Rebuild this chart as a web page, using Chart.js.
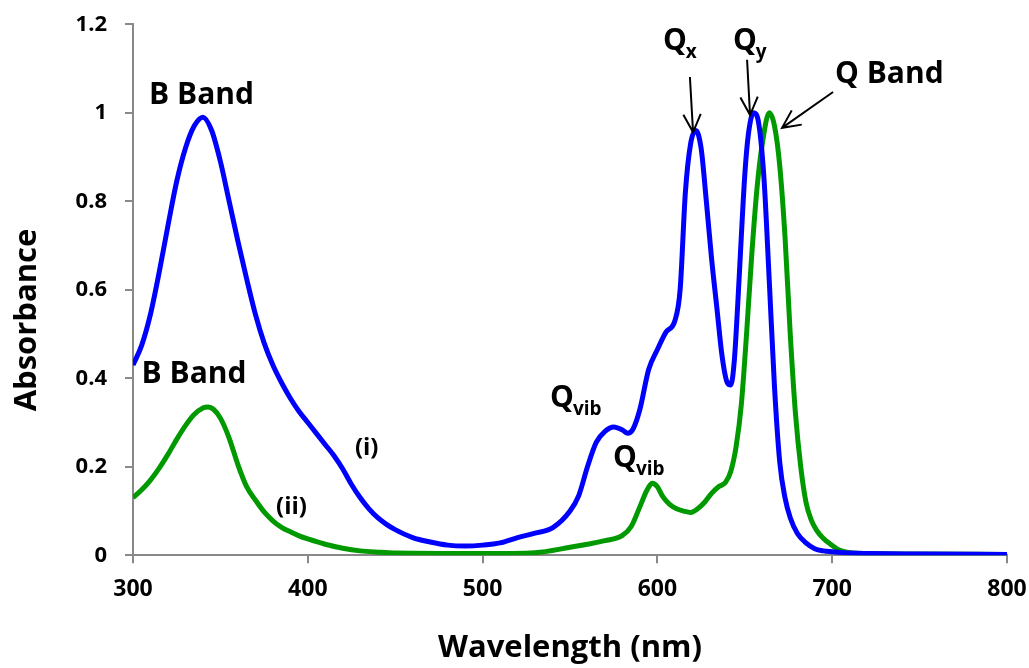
<!DOCTYPE html>
<html>
<head>
<meta charset="utf-8">
<script src="https://cdn.jsdelivr.net/npm/chart.js@4"></script>
<style>
html,body{margin:0;padding:0;background:#fff;}
#c{display:block;}
</style>
</head>
<body>
<canvas id="c" width="1029" height="668"></canvas>
<script>
// ---- data ----
const wlI = [300,305,310,315,320,325,330,335,340,345,350,355,360,365,370,375,380,385,390,395,400,405,410,415,420,425,430,435,440,445,450,460,470,480,490,500,510,520,530,540,550,555,560,565,570,575,580,583,586,590,595,600,605,610,613,616,619,622,625,628,631,634,637,640,642,644,646,648,650,652,655,658,661,664,667,670,673,676,680,685,690,695,700,710,720,750,800];
const absI = [0.43,0.475,0.545,0.64,0.745,0.845,0.92,0.97,0.99,0.96,0.89,0.80,0.71,0.625,0.545,0.48,0.43,0.39,0.355,0.325,0.30,0.275,0.25,0.225,0.195,0.16,0.13,0.105,0.085,0.07,0.058,0.04,0.03,0.023,0.021,0.023,0.028,0.04,0.05,0.062,0.10,0.135,0.2,0.255,0.28,0.29,0.283,0.276,0.285,0.33,0.42,0.465,0.505,0.53,0.6,0.82,0.93,0.96,0.92,0.80,0.67,0.56,0.45,0.39,0.385,0.44,0.57,0.72,0.86,0.95,1.0,0.975,0.85,0.62,0.38,0.21,0.13,0.085,0.05,0.028,0.015,0.01,0.008,0.005,0.004,0.003,0.002];

const wlII = [300,305,310,315,320,325,330,335,340,343,346,350,355,360,365,370,375,380,385,390,395,400,410,420,430,440,450,500,530,550,560,570,580,585,590,594,597,600,603,607,611,615,619,623,627,631,635,639,642,645,648,651,654,657,660,664,667,670,673,676,679,682,685,688,691,695,699,703,707,712,720,750,800];
const absII = [0.13,0.148,0.17,0.197,0.228,0.262,0.293,0.318,0.333,0.335,0.33,0.31,0.265,0.205,0.155,0.125,0.098,0.078,0.063,0.053,0.044,0.037,0.025,0.016,0.01,0.007,0.005,0.004,0.006,0.018,0.025,0.033,0.045,0.065,0.11,0.147,0.163,0.155,0.133,0.115,0.105,0.1,0.097,0.105,0.12,0.14,0.155,0.165,0.19,0.245,0.34,0.5,0.68,0.83,0.93,1.0,0.97,0.88,0.72,0.5,0.32,0.2,0.12,0.08,0.057,0.038,0.025,0.014,0.008,0.005,0.004,0.003,0.002];

const xTickLabels = ['300','400','500','600','700','800'];
const yTickLabels = ['0','0.2','0.4','0.6','0.8','1','1.2'];

// annotation texts: [text, subscript, x(nm), y(abs), align]
const labels = [
  ['B Band','',339.2,1.02,'center'],
  ['B Band','',334.9,0.39,'center'],
  ['(i)','',433.7,0.226,'center'],
  ['(ii)','',390.7,0.093,'center'],
  ['Q','vib',538.6,0.335,'left'],
  ['Q','vib',574.6,0.2,'left'],
  ['Q','x',603.2,1.142,'left'],
  ['Q','y',643.2,1.142,'left'],
  ['Q Band','',701.6,1.067,'left']
];
// arrows: [x0,y0,x1,y1] (tail -> head), in data units
const arrows = [
  [618.6,1.081,620.4,0.956],
  [651.3,1.12,653.0,0.995],
  [700.5,1.047,671.3,0.966]
];

const FONT = "'Open Sans', 'DejaVu Sans', sans-serif";
const AXIS = '#898989';

const annot = {
  id: 'annot',
  afterDatasetsDraw(chart) {
    const ctx = chart.ctx, xs = chart.scales.x, ys = chart.scales.y;
    ctx.save();
    ctx.fillStyle = '#000';
    ctx.textBaseline = 'alphabetic';
    for (const [t, sub, x, y, al] of labels) {
      const px = xs.getPixelForValue(x), py = ys.getPixelForValue(y);
      const small = t.startsWith('(');
      ctx.font = 'bold ' + (small ? 24 : 30) + 'px ' + FONT;
      ctx.textAlign = al;
      ctx.fillText(t, px, py);
      if (sub) {
        const w = ctx.measureText(t).width;
        ctx.font = 'bold 19px ' + FONT;
        ctx.textAlign = 'left';
        ctx.fillText(sub, px + w - 1, py + 8);
      }
    }
    ctx.strokeStyle = '#000';
    ctx.lineWidth = 2;
    for (const [x0, y0, x1, y1] of arrows) {
      const ax = xs.getPixelForValue(x0), ay = ys.getPixelForValue(y0);
      const bx = xs.getPixelForValue(x1), by = ys.getPixelForValue(y1);
      const ang = Math.atan2(by - ay, bx - ax);
      const L = 20, spread = 0.45;
      ctx.beginPath();
      ctx.moveTo(ax, ay); ctx.lineTo(bx, by);
      ctx.moveTo(bx - L * Math.cos(ang - spread), by - L * Math.sin(ang - spread));
      ctx.lineTo(bx, by);
      ctx.lineTo(bx - L * Math.cos(ang + spread), by - L * Math.sin(ang + spread));
      ctx.stroke();
    }
    // y axis title
    ctx.font = 'bold 31px ' + FONT;
    ctx.textAlign = 'center';
    ctx.textBaseline = 'middle';
    ctx.translate(27, 320);
    ctx.rotate(-Math.PI / 2);
    ctx.fillText('Absorbance', 0, 0);
    ctx.restore();
  }
};

new Chart(document.getElementById('c'), {
  type: 'line',
  data: {
    datasets: [
      { label: '(i)', data: wlI.map((x, i) => ({x, y: absI[i]})), borderColor: '#0000FF', borderWidth: 5, pointRadius: 0, cubicInterpolationMode: 'monotone', fill: false },
      { label: '(ii)', data: wlII.map((x, i) => ({x, y: absII[i]})), borderColor: '#009900', borderWidth: 5, pointRadius: 0, cubicInterpolationMode: 'monotone', fill: false }
    ]
  },
  options: {
    responsive: false,
    animation: false,
    events: [],
    layout: { padding: { left: 0, right: 22, top: 24.3, bottom: 0 } },
    plugins: { legend: { display: false }, tooltip: { enabled: false } },
    scales: {
      x: {
        type: 'linear', min: 300, max: 800,
        afterFit(s) { s.height = 112.7; s.paddingLeft = 0; s.paddingRight = 0; },
        border: { display: true, color: AXIS, width: 2 },
        grid: { drawOnChartArea: false, drawTicks: true, tickLength: 8, color: AXIS, lineWidth: 2 },
        ticks: { stepSize: 100, padding: 12, color: '#000', font: { family: FONT, size: 23, weight: 'bold' },
                 callback: (v, i) => xTickLabels[i] },
        title: { display: true, text: 'Wavelength (nm)', color: '#000', font: { family: FONT, size: 31, weight: 'bold' }, padding: { top: 0, bottom: 1 } }
      },
      y: {
        min: 0, max: 1.2,
        afterFit(s) { s.width = 133; s.paddingTop = 0; s.paddingBottom = 0; },
        border: { display: true, color: AXIS, width: 2 },
        grid: { drawOnChartArea: false, drawTicks: true, tickLength: 8, color: AXIS, lineWidth: 2 },
        ticks: { stepSize: 0.2, padding: 18, color: '#000', font: { family: FONT, size: 22, weight: 'bold' },
                 callback: (v, i) => yTickLabels[i] }
      }
    }
  },
  plugins: [annot]
});
</script>
</body>
</html>
